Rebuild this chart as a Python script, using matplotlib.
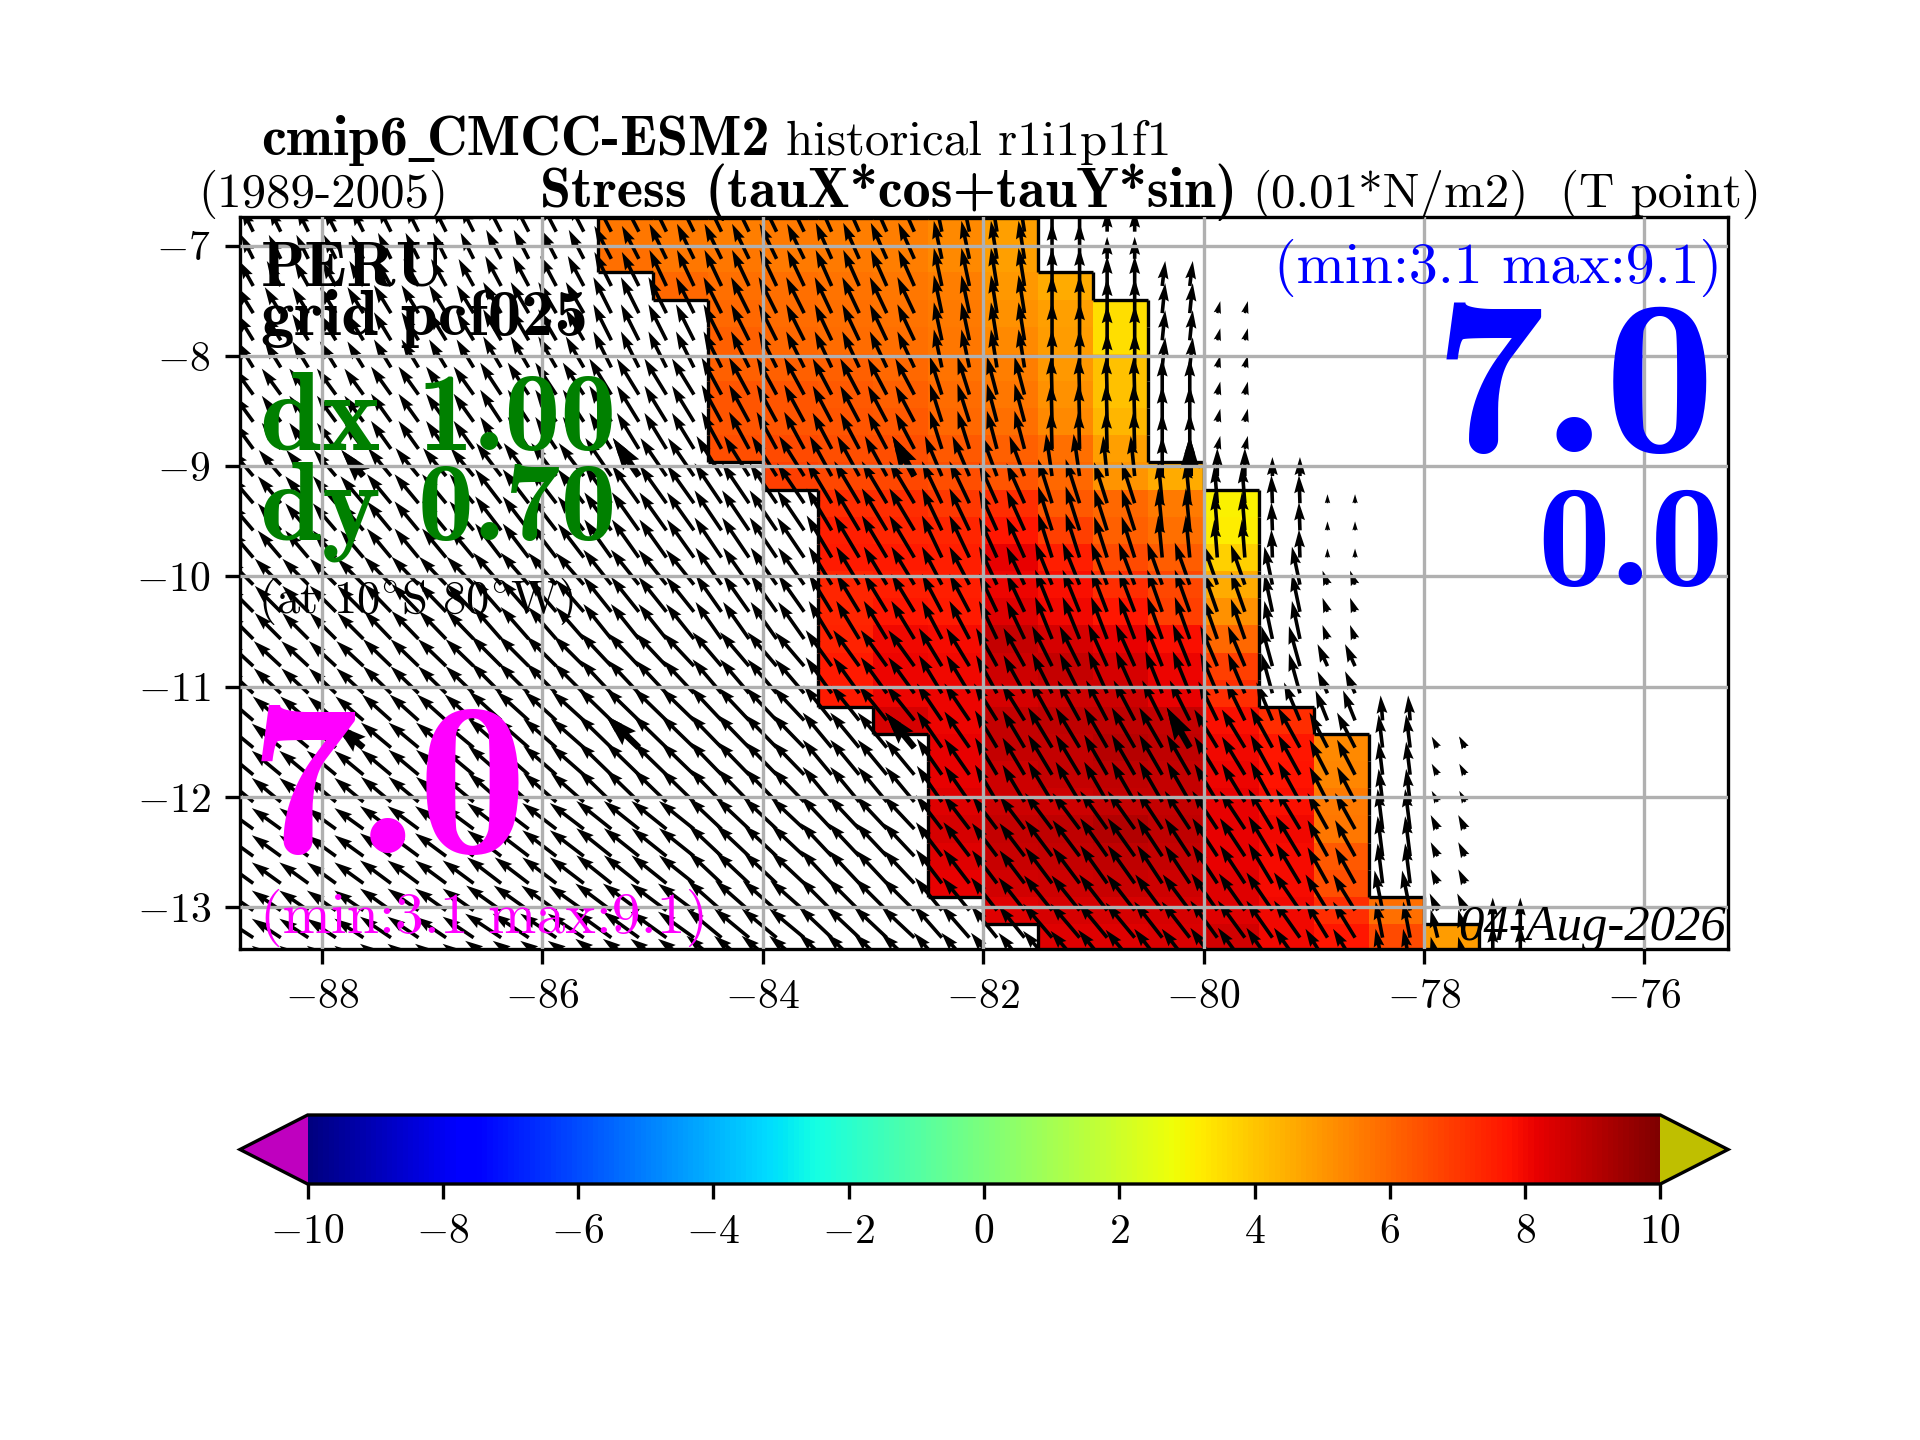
import numpy as np
import matplotlib
matplotlib.use('Agg')
import matplotlib.pyplot as plt
from matplotlib.collections import LineCollection

plt.rcParams['font.family'] = ['cmr10', 'DejaVu Sans']
plt.rcParams['mathtext.fontset'] = 'cm'
plt.rcParams['axes.formatter.use_mathtext'] = True
plt.rcParams['axes.unicode_minus'] = True

n = np.nan

# stress shown in colour (0.01 N/m2), 0.5 deg columns from 85.5W, rows from north to south
stress = [
    [5.7, 5.6, 5.5, 5.6, 5.5, 5.5, 5.3, 4.8, n, n, n, n, n, n, n, n],
    [5.85, 5.65, 5.65, 5.6, 5.6, 5.5, 5.3, 4.8, n, n, n, n, n, n, n, n],
    [n, 5.95, 5.85, 5.85, 5.75, 5.65, 5.5, 4.95, 4.6, n, n, n, n, n, n, n],
    [n, n, 6.0, 5.9, 5.85, 5.75, 5.6, 5.15, 4.8, 3.5, n, n, n, n, n, n],
    [n, n, 6.1, 6.0, 5.9, 5.85, 5.65, 5.25, 4.9, 3.5, n, n, n, n, n, n],
    [n, n, 6.15, 6.15, 6.1, 6.0, 5.75, 5.5, 4.95, 4.1, n, n, n, n, n, n],
    [n, n, 6.35, 6.35, 6.25, 6.15, 5.9, 5.65, 5.15, 4.1, n, n, n, n, n, n],
    [n, n, 6.4, 6.4, 6.35, 6.25, 6.0, 5.85, 5.25, 4.3, n, n, n, n, n, n],
    [n, n, 6.5, 6.6, 6.5, 6.5, 6.25, 6.1, 5.85, 4.8, n, n, n, n, n, n],
    [n, n, n, 6.85, 6.7, 6.7, 6.5, 6.35, 5.95, 5.0, 4.6, n, n, n, n, n],
    [n, n, n, n, 7.2, 7.2, 7.0, 7.2, 6.25, 6.0, 5.6, 3.1, n, n, n, n],
    [n, n, n, n, 7.5, 7.4, 7.35, 7.7, 6.85, 6.15, 5.85, 3.15, n, n, n, n],
    [n, n, n, n, 7.6, 7.6, 7.55, 8.2, 7.5, 6.6, 6.2, 3.8, n, n, n, n],
    [n, n, n, n, 7.35, 7.5, 7.5, 8.1, 7.85, 7.25, 6.7, 4.6, n, n, n, n],
    [n, n, n, n, 7.35, 7.7, 7.6, 8.35, 8.0, 7.7, 6.85, 5.15, n, n, n, n],
    [n, n, n, n, 7.45, 8.0, 7.9, 8.75, 8.45, 8.2, 7.85, 6.0, n, n, n, n],
    [n, n, n, n, 7.6, 8.1, 8.0, 8.6, 8.75, 8.45, 8.1, 6.85, n, n, n, n],
    [n, n, n, n, 7.6, 8.1, 8.1, 8.45, 8.6, 8.6, 8.2, 7.2, n, n, n, n],
    [n, n, n, n, n, 8.45, 8.1, 8.75, 8.9, 8.9, 8.75, 7.85, 7.2, n, n, n],
    [n, n, n, n, n, n, 8.2, 8.75, 8.75, 9.05, 8.9, 8.0, 7.7, 5.3, n, n],
    [n, n, n, n, n, n, 8.2, 8.6, 8.75, 8.9, 8.8, 8.1, 7.75, 5.35, n, n],
    [n, n, n, n, n, n, 8.35, 8.6, 8.6, 8.75, 8.8, 8.15, 7.85, 5.6, n, n],
    [n, n, n, n, n, n, 8.45, 8.75, 8.9, 9.1, 8.9, 8.2, 8.0, 5.65, n, n],
    [n, n, n, n, n, n, 8.35, 8.7, 8.75, 8.9, 8.75, 8.2, 7.9, 6.25, n, n],
    [n, n, n, n, n, n, 8.2, 8.55, 8.6, 8.7, 8.6, 8.3, 7.9, 6.5, n, n],
    [n, n, n, n, n, n, n, 8.35, 8.45, 8.45, 8.45, 8.35, 8.0, 7.25, 5.85, n],
    [n, n, n, n, n, n, n, n, 8.35, 8.35, 8.4, 8.55, 8.0, 7.7, 6.6, 4.9],
]

# arrows: westward and northward parts, 0.5 deg columns from 89W
# one line per latitude band, band_of_row says which band each 0.25 deg row uses
tau_west = [
    [12, 12, 12, 13, 13, 15, 15, 17, 17, 17, 17, 16, 16, 8, 6, 0, 0, n, n, n, n, n, n, n],
    [14, 14, 14, 15, 15, 16, 16, 17, 17, 17, 17, 16, 16, 8, 6, 0, 0, -3, n, n, n, n, n, n],
    [16, 16, 16, 17, 17, 18, 18, 18, 18, 18, 18, 17, 17, 8, 6, 0, 0, -3, -3, n, n, n, n, n],
    [19, 19, 19, 20, 20, 21, 21, 22, 22, 20, 20, 19, 19, 12, 10, 1, 1, 0, -3, n, n, n, n, n],
    [22, 22, 22, 23, 23, 25, 25, 26, 26, 25, 25, 22, 22, 17, 15, 6, 4, 0, 0, 0, n, n, n, n],
    [23, 23, 23, 24, 24, 26, 26, 27, 27, 27, 27, 25, 25, 20, 18, 14, 13, 4, 3, 1, 0, n, n, n],
    [26, 26, 26, 27, 27, 28, 28, 28, 28, 26, 26, 23, 23, 20, 18, 17, 16, 15, 14, 8, 5, n, n, n],
    [27, 27, 27, 28, 28, 30, 30, 31, 31, 29, 29, 26, 26, 23, 21, 20, 19, 17, 17, 11, 10, n, n, n],
    [28, 28, 28, 29, 29, 32, 32, 33, 33, 31, 31, 28, 28, 25, 23, 22, 21, 20, 19, 16, 12, 2, n, n],
    [29, 29, 29, 30, 30, 33, 33, 33, 33, 32, 32, 29, 29, 25, 22, 24, 23, 23, 23, 22, 18, 4, 6, n],
    [29, 29, 29, 31, 31, 34, 34, 35, 35, 33, 33, 31, 31, 26, 25, 27, 27, 25, 25, 24, 20, 5, 7, n],
    [29, 29, 29, 31, 31, 35, 35, 36, 36, 34, 34, 32, 32, 27, 26, 28, 28, 27, 26, 26, 22, 8, 8, n],
    [29, 29, 29, 31, 31, 36, 36, 36, 36, 35, 35, 33, 33, 28, 26, 29, 29, 28, 27, 26, 22, 7, 7, 0],
]
tau_north = [
    [24, 24, 24, 26, 26, 29, 29, 33, 35, 35, 35, 36, 36, 38, 38, 36, 22, n, n, n, n, n, n, n],
    [25, 25, 25, 27, 27, 30, 30, 34, 36, 36, 36, 36, 36, 38, 38, 38, 30, 25, n, n, n, n, n, n],
    [26, 26, 26, 28, 28, 31, 31, 36, 36, 36, 36, 36, 36, 38, 38, 38, 35, 30, 12, n, n, n, n, n],
    [26, 26, 26, 28, 28, 32, 32, 36, 36, 37, 37, 36, 36, 38, 38, 38, 38, 36, 13, n, n, n, n, n],
    [26, 26, 26, 28, 28, 33, 33, 38, 38, 40, 40, 40, 40, 40, 40, 42, 40, 40, 28, 19, n, n, n, n],
    [27, 27, 27, 29, 29, 34, 34, 38, 38, 40, 40, 42, 42, 42, 40, 44, 41, 42, 38, 28, 9, n, n, n],
    [26, 26, 26, 28, 28, 32, 32, 35, 35, 37, 37, 38, 38, 38, 38, 42, 42, 42, 40, 38, 14, n, n, n],
    [25, 25, 25, 27, 27, 30, 30, 33, 33, 34, 34, 36, 36, 38, 38, 40, 42, 42, 40, 40, 22, n, n, n],
    [24, 24, 24, 26, 26, 29, 29, 32, 32, 33, 33, 35, 35, 37, 37, 40, 40, 40, 39, 38, 30, 25, n, n],
    [24, 24, 24, 25, 25, 29, 29, 32, 32, 33, 33, 35, 35, 36, 37, 40, 40, 40, 38, 40, 35, 33, 11, n],
    [21, 21, 21, 23, 23, 26, 26, 28, 28, 31, 31, 33, 33, 34, 33, 36, 38, 38, 38, 40, 36, 40, 14, n],
    [20, 20, 20, 22, 22, 25, 25, 27, 27, 30, 30, 32, 32, 33, 33, 35, 36, 36, 37, 38, 36, 40, 17, n],
    [19, 19, 19, 21, 21, 24, 24, 26, 26, 29, 29, 31, 31, 32, 32, 34, 35, 36, 37, 37, 36, 36, 28, 40],
]
band_of_row = [0, 0, 1, 2, 2, 2, 3, 3, 3, 4, 5, 5, 5, 6, 6, 6, 7, 7, 8, 9, 9, 9, 10, 10, 10, 11, 12, 12]

cbar_ticks = [-10, -8, -6, -4, -2, 0, 2, 4, 6, 8, 10]
lon_ticks = [-88, -86, -84, -82, -80, -78, -76]
lat_ticks = [-13, -12, -11, -10, -9, -8, -7]

W, H = 1920, 1440
fig = plt.figure(figsize=(6.4, 4.8), dpi=300)
ax = fig.add_axes([240 / W, 1 - 949 / H, 1488 / W, 732 / H])

# grid of the model: 0.5 deg in x, about 0.246 deg in y
x_edges = -85.5 + 0.5 * np.arange(17)
y_edges = -6.75 - 0.2463 * np.arange(28)

cmap = plt.get_cmap('jet', 256).copy()
cmap.set_under((0.75, 0, 0.75))
cmap.set_over((0.75, 0.75, 0))
cmap.set_bad('white')

values = np.ma.masked_invalid(np.array(stress))
mesh = ax.pcolormesh(x_edges, y_edges, values, cmap=cmap, vmin=-10, vmax=10,
                     shading='flat', antialiased=False, zorder=1)

# outline of the coloured region
sea = ~np.isnan(np.array(stress))
nrow, ncol = sea.shape
segs = []
for r in range(nrow):
    for c in range(ncol):
        if not sea[r, c]:
            continue
        if r == 0 or not sea[r - 1, c]:
            segs.append([(x_edges[c], y_edges[r]), (x_edges[c + 1], y_edges[r])])
        if r == nrow - 1 or not sea[r + 1, c]:
            segs.append([(x_edges[c], y_edges[r + 1]), (x_edges[c + 1], y_edges[r + 1])])
        if c == 0 or not sea[r, c - 1]:
            segs.append([(x_edges[c], y_edges[r]), (x_edges[c], y_edges[r + 1])])
        if c == ncol - 1 or not sea[r, c + 1]:
            segs.append([(x_edges[c + 1], y_edges[r]), (x_edges[c + 1], y_edges[r + 1])])
ax.add_collection(LineCollection(segs, colors='k', linewidths=0.8, zorder=1.5))

# arrows: two per 0.5 deg column, one per row
west = np.repeat(np.array(tau_west, dtype=float)[band_of_row], 2, axis=1)
north = np.repeat(np.array(tau_north, dtype=float)[band_of_row], 2, axis=1)
x_arrow = -88.875 + 0.25 * np.arange(west.shape[1])
y_arrow = -6.75 - 0.2463 * (np.arange(west.shape[0]) + 0.5)
X, Y = np.meshgrid(x_arrow, y_arrow)
good = ~np.isnan(west)
ax.quiver(X[good], Y[good], -west[good], north[good], angles='uv', scale_units='xy',
          scale=110.2, units='dots', width=3.6, color='k', zorder=2)

# every tenth arrow is drawn again, thicker
rows, cols = np.meshgrid(np.arange(west.shape[0]), np.arange(west.shape[1]), indexing='ij')
big = good & (rows % 10 == 9) & (cols % 10 == 5)
ax.quiver(X[big], Y[big], -west[big], north[big], angles='uv', scale_units='xy',
          scale=110.2, units='dots', width=6.5, color='k', zorder=2)

ax.set_xlim(-88.745, -75.24)
ax.set_ylim(-13.38, -6.74)
ax.set_xticks(lon_ticks)
ax.set_yticks(lat_ticks)
ax.grid(True, color='#b0b0b0', linewidth=0.8)
ax.set_axisbelow(False)


def put(px, py, s, size, color='k', family='cmr10', ha='left', **kw):
    fig.text(px / W, 1 - py / H, s, fontsize=size, color=color, family=family,
             ha=ha, va='baseline', zorder=5, **kw)


# titles
put(261, 155, 'cmip6', 13.5, family='cmb10')
put(408, 155, '_', 12, family='Liberation Serif', weight='bold')
put(427, 155, 'CMCC-ESM2', 13.5, family='cmb10')
put(786, 155, 'historical r1i1p1f1', 11.75)
put(198, 207, '(1989-2005)', 11.75)
put(540, 207, 'Stress (tauX*cos+tauY*sin)', 13.45, family='cmb10')
put(1252, 207, '(0.01*N/m2)', 11.75)
put(1560, 207, '(T point)', 11.75)

# labels inside the map
put(261, 285, 'PERU', 15.5, family='cmb10')
put(261, 335, 'grid pcf025', 16, family='cmb10')
put(260, 450, 'dx 1.00', 26.8, color='green', family='cmb10')
put(260, 540, 'dy 0.70', 26.8, color='green', family='cmb10')
put(258, 613, r'(at 10$^{\circ}$S 80$^{\circ}$W)', 11.2)
put(249, 853, '7.0', 52.5, color='magenta', family='cmb10')
put(260, 933, '(min:3.1 max:9.1)', 13.9, color='magenta')
put(1722, 283, '(min:3.1 max:9.1)', 13.9, color='blue', ha='right')
put(1716, 452, '7.0', 53, color='blue', family='cmb10', ha='right')
put(1724, 585, '0.0', 35, color='blue', family='cmb10', ha='right')
put(1726, 940, '04-Aug-2026', 12.2, family='Liberation Serif', style='italic', ha='right')

# colorbar
cax = fig.add_axes([240 / W, 1 - 1184 / H, 1488 / W, 69 / H])
cb = fig.colorbar(mesh, cax=cax, orientation='horizontal', extend='both', ticks=cbar_ticks)

fig.savefig('out.png', dpi=300)
